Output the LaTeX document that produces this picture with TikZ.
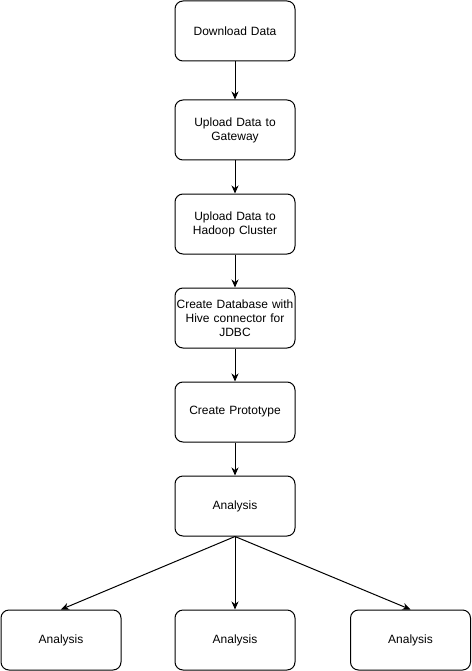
\documentclass[tikz,border=0pt]{standalone}
\usepackage{fontspec}
\setmainfont{Liberation Sans}
\usetikzlibrary{arrows.meta}
\begin{document}
\begin{tikzpicture}[x=1pt,y=-1pt,
  box/.style={draw=black,line width=1pt,rounded corners=8pt,minimum width=120pt,minimum height=60pt,inner sep=1pt,align=center,font=\fontsize{12}{14}\selectfont,text width=118pt},
  lbl/.style={yshift=-1pt},
  arr/.style={draw=black,line width=1pt,-{Stealth[length=8pt,width=7pt,inset=2.5pt]}}]
\useasboundingbox (0,0) rectangle (471,671);
\node[box] (n1) at (235,31) {Download Data};
\node[box] (n2) at (235,130) {Upload Data to\\Gateway};
\node[box] (n3) at (235,224) {Upload Data to\\Hadoop Cluster};
\node[box] (n4) at (235,318) {Create Database with\\Hive connector for\\JDBC};
\node[box] (n5) at (235,412) {Create Prototype};
\node[box] (n6) at (235,506) {Analysis};
\node[box] (a1) at (61,640) {Analysis};
\node[box] (a2) at (235,640) {Analysis};
\node[box] (a3) at (410.5,640) {Analysis};
\draw[arr] (n1) -- (n2);
\draw[arr] (n2) -- (n3);
\draw[arr] (n3) -- (n4);
\draw[arr] (n4) -- (n5);
\draw[arr] (n5) -- (n6);
\draw[arr] (n6.south) -- (a1.north);
\draw[arr] (n6.south) -- (a2.north);
\draw[arr] (n6.south) -- (a3.north);
\end{tikzpicture}
\end{document}
